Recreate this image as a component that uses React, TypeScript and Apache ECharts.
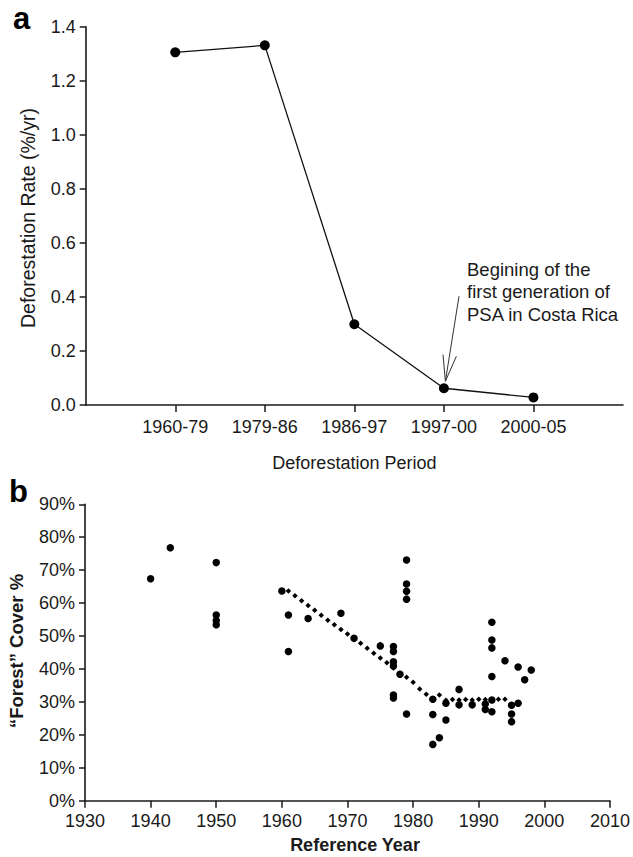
import React, { useEffect, useRef } from 'react';
import * as echarts from 'echarts';

// Panel a: deforestation rate by period
const periods = ['1960-79', '1979-86', '1986-97', '1997-00', '2000-05'];
const rates = [1.305, 1.331, 0.299, 0.062, 0.028];

// Panel b: forest cover estimates by reference year
const years = [
  1940, 1943, 1950, 1950, 1950, 1950, 1960, 1961, 1961, 1964,
  1969, 1971, 1975, 1977, 1977, 1977, 1977, 1977, 1977, 1978,
  1979, 1979, 1979, 1979, 1979, 1983, 1983, 1983, 1984, 1985,
  1985, 1987, 1987, 1989, 1991, 1991, 1992, 1992, 1992, 1992,
  1992, 1992, 1994, 1995, 1995, 1995, 1996, 1996, 1997, 1998,
];
const cover = [
  67.4, 76.8, 72.3, 56.4, 54.7, 53.4, 63.7, 56.4, 45.3, 55.3,
  56.9, 49.3, 47.0, 46.8, 45.3, 42.2, 40.9, 32.1, 31.2, 38.4,
  73.1, 65.8, 63.6, 61.2, 26.3, 30.8, 26.2, 17.1, 19.1, 29.6,
  24.5, 33.8, 29.1, 29.1, 29.4, 27.7, 54.2, 48.8, 46.4, 37.7,
  30.6, 27.0, 42.5, 29.0, 26.3, 24.0, 29.6, 40.6, 36.7, 39.7,
];

// Dotted trend line (read per year)
const trendYears = [
  1961, 1962, 1963, 1964, 1965, 1966, 1967, 1968, 1969, 1970,
  1971, 1972, 1973, 1974, 1975, 1976, 1977, 1978, 1979, 1980,
  1981, 1982, 1983, 1984, 1985, 1986, 1987, 1988, 1989, 1990,
  1991, 1992, 1993, 1994,
];
const trendCover = [
  63.7, 62.2, 60.7, 59.3, 57.8, 56.3, 54.8, 53.4, 52.0, 50.6,
  49.1, 47.8, 46.3, 44.8, 43.3, 41.9, 40.3, 38.7, 37.5, 36.0,
  33.9, 32.3, 30.8, 32.1, 30.5, 30.7, 30.6, 30.7, 30.6, 30.8,
  30.7, 30.7, 30.8, 30.8,
];

const coverTicks = { min: 0, max: 90, interval: 10 };
const yearTicks = { min: 1930, max: 2010, interval: 10 };
const rateTicks = { min: 0, max: 1.4, interval: 0.2 };

const FONT = 'Liberation Sans, Arial, Helvetica, sans-serif';
const INK = '#1a1a1a';

export default function App() {
  const ref = useRef<HTMLDivElement>(null);

  useEffect(() => {
    if (!ref.current) return;
    const chart = echarts.init(ref.current, undefined, { renderer: 'svg' });

    const axisLine = { show: true, lineStyle: { color: INK, width: 1.6 } };
    const label = { color: INK, fontSize: 18, fontFamily: FONT };
    const catData = ['', ...periods, ''];

    const option: any = {
      animation: false,
      backgroundColor: '#fff',
      textStyle: { fontFamily: FONT },
      grid: [
        { left: 85.7, top: 26.7, width: 537.3, height: 378.3 },
        { left: 85, top: 504.3, width: 526.7, height: 296.4 },
      ],
      xAxis: [
        {
          gridIndex: 0,
          type: 'category',
          data: catData,
          boundaryGap: false,
          axisLine,
          axisTick: {
            show: true,
            length: 7,
            lineStyle: { color: INK, width: 1.5 },
            interval: (_i: number, v: string) => v !== '',
          },
          axisLabel: { ...label, margin: 13, interval: 0 },
          splitLine: { show: false },
        },
        {
          gridIndex: 1,
          type: 'value',
          min: yearTicks.min,
          max: yearTicks.max,
          interval: yearTicks.interval,
          axisLine,
          axisTick: { show: true, length: 7, lineStyle: { color: INK, width: 1.5 } },
          axisLabel: { ...label, margin: 11, formatter: (v: number) => String(v) },
          splitLine: { show: false },
        },
      ],
      yAxis: [
        {
          gridIndex: 0,
          type: 'value',
          min: rateTicks.min,
          max: rateTicks.max,
          interval: rateTicks.interval,
          axisLine,
          axisTick: { show: true, length: 6, lineStyle: { color: INK, width: 1.5 } },
          axisLabel: { ...label, margin: 10, formatter: (v: number) => v.toFixed(1) },
          splitLine: { show: false },
        },
        {
          gridIndex: 1,
          type: 'value',
          min: coverTicks.min,
          max: coverTicks.max,
          interval: coverTicks.interval,
          axisLine,
          axisTick: { show: true, length: 6, lineStyle: { color: INK, width: 1.5 } },
          axisLabel: { ...label, margin: 10, formatter: '{value}%' },
          splitLine: { show: false },
        },
      ],
      series: [
        {
          type: 'line',
          xAxisIndex: 0,
          yAxisIndex: 0,
          data: periods.map((p, i) => [p, rates[i]]),
          symbol: 'circle',
          symbolSize: 10,
          itemStyle: { color: '#000', opacity: 1 },
          lineStyle: { color: '#111', width: 1.3 },
        },
        {
          type: 'scatter',
          xAxisIndex: 1,
          yAxisIndex: 1,
          data: trendYears.map((y, i) => [y, trendCover[i]]),
          symbol: 'diamond',
          symbolSize: 5.5,
          itemStyle: { color: '#000', opacity: 1 },
          z: 3,
        },
        {
          type: 'scatter',
          xAxisIndex: 1,
          yAxisIndex: 1,
          data: years.map((y, i) => [y, cover[i]]),
          symbol: 'circle',
          symbolSize: 7.5,
          itemStyle: { color: '#000', opacity: 1 },
          z: 4,
        },
      ],
    };
    chart.setOption(option);

    // Annotation arrow anchored to the 1997-00 point
    const p = chart.convertToPixel({ xAxisIndex: 0, yAxisIndex: 0 }, ['1997-00', rates[3]]) as number[];
    const tip = [p[0] + 1.5, p[1] - 7];
    const lineStyle = { stroke: '#333', lineWidth: 1 };

    const elements: any[] = [
      {
        type: 'text',
        x: 13, y: 18,
        style: { text: 'a', font: `bold 31px ${FONT}`, fill: '#000', textAlign: 'left', textVerticalAlign: 'middle' },
      },
      {
        type: 'text',
        x: 9, y: 491,
        style: { text: 'b', font: `bold 31px ${FONT}`, fill: '#000', textAlign: 'left', textVerticalAlign: 'middle' },
      },
      {
        type: 'text',
        x: 28, y: 218,
        rotation: Math.PI / 2,
        style: { text: 'Deforestation Rate (%/yr)', font: `19.5px ${FONT}`, fill: INK, textAlign: 'center', textVerticalAlign: 'middle' },
      },
      {
        type: 'text',
        x: 354.4, y: 463,
        style: { text: 'Deforestation Period', font: `18px ${FONT}`, fill: INK, textAlign: 'center', textVerticalAlign: 'middle' },
      },
      {
        type: 'text',
        x: 16, y: 651,
        rotation: Math.PI / 2,
        style: { text: '\u201cForest\u201d Cover %', font: `bold 18.5px ${FONT}`, fill: INK, textAlign: 'center', textVerticalAlign: 'middle' },
      },
      {
        type: 'text',
        x: 355, y: 845,
        style: { text: 'Reference Year', font: `bold 18px ${FONT}`, fill: INK, textAlign: 'center', textVerticalAlign: 'middle' },
      },
      {
        type: 'text',
        x: tip[0] + 21.6, y: 258,
        style: {
          text: 'Begining of the\nfirst generation of\nPSA in Costa Rica',
          font: `18.5px ${FONT}`,
          lineHeight: 22.5,
          fill: INK,
          textAlign: 'left',
          textVerticalAlign: 'top',
        },
      },
      {
        type: 'line',
        shape: { x1: tip[0] + 13.6, y1: tip[1] - 85, x2: tip[0], y2: tip[1] },
        style: lineStyle,
      },
      {
        type: 'line',
        shape: { x1: tip[0] - 2.4, y1: tip[1] - 26.7, x2: tip[0], y2: tip[1] },
        style: lineStyle,
      },
      {
        type: 'line',
        shape: { x1: tip[0] + 11, y1: tip[1] - 25, x2: tip[0], y2: tip[1] },
        style: lineStyle,
      },
    ];
    chart.setOption({ graphic: { elements } });

    return () => chart.dispose();
  }, []);

  return (
    <div
      ref={ref}
      style={{ position: 'absolute', left: 0, top: 0, width: 633, height: 857, background: '#fff' }}
    />
  );
}
